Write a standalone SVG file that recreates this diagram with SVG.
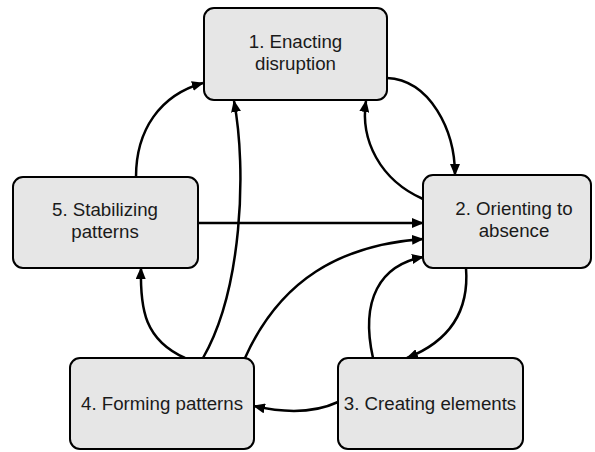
<svg xmlns="http://www.w3.org/2000/svg" width="595" height="452" viewBox="0 0 595 452">
<style>
.n rect{fill:#e6e6e6;stroke:#000;stroke-width:2}
.n text{font-family:"Liberation Sans",Arial,sans-serif;font-size:18.7px;fill:#1a1a1a;text-anchor:middle}
#edges path{fill:none;stroke:#000;stroke-width:2.5;marker-end:url(#ah)}
</style>
<defs>
<marker id="ah" markerUnits="userSpaceOnUse" markerWidth="12" markerHeight="10" refX="11" refY="5" orient="auto">
<path d="M0,0 L12,5 L0,10 z" fill="#000"/>
</marker>
</defs>
<g id="edges">
<path d="M387,78 C430,80 455,130 455,175"/>
<path d="M423,199 C380,180 360,140 366,101"/>
<path d="M136,177 C136,130 160,95 203,83"/>
<path d="M203,358 C242,290 247,170 234,101"/>
<path d="M198,223 L423,223"/>
<path d="M245,358 C280,280 340,245 423,239"/>
<path d="M373,358 C360,300 380,265 423,257"/>
<path d="M466,268 C470,320 440,345 407,358"/>
<path d="M338,402 C310,415 280,412 254,406"/>
<path d="M185,358 C145,340 140,310 141,268"/>
</g>
<g id="n1" class="n"><rect x="204" y="8" width="183" height="92" rx="10"/><text x="295.5" y="48">1. Enacting</text><text x="295.5" y="70">disruption</text></g>
<g id="n2" class="n"><rect x="423" y="175" width="168" height="93" rx="10"/><text x="514" y="215">2. Orienting to</text><text x="514" y="237">absence</text></g>
<g id="n3" class="n"><rect x="338" y="358" width="185" height="91" rx="10"/><text x="430" y="410">3. Creating elements</text></g>
<g id="n4" class="n"><rect x="70" y="358" width="184" height="91" rx="10"/><text x="162" y="410">4. Forming patterns</text></g>
<g id="n5" class="n"><rect x="13" y="177" width="185" height="91" rx="10"/><text x="105" y="216">5. Stabilizing</text><text x="105" y="238">patterns</text></g>
</svg>
